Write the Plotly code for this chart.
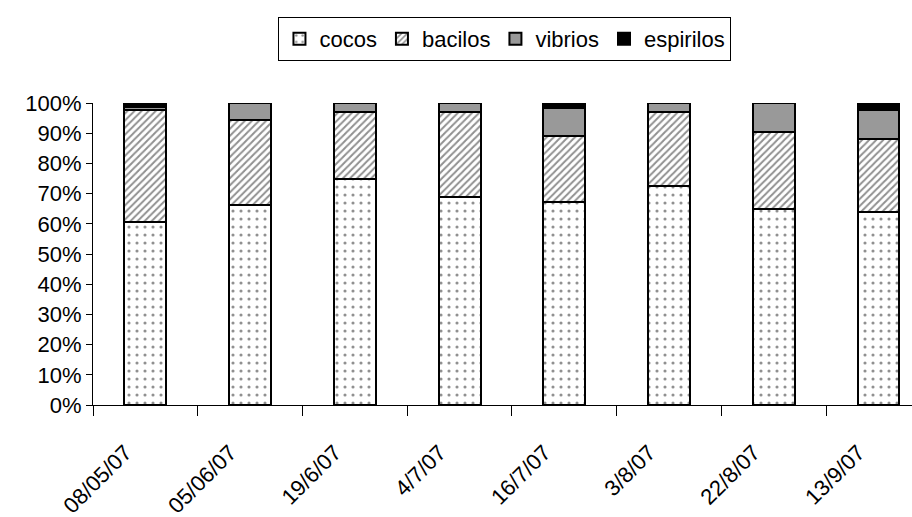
import plotly.graph_objects as go

categories = ["08/05/07", "05/06/07", "19/6/07", "4/7/07", "16/7/07", "3/8/07", "22/8/07", "13/9/07"]
cocos = [60.7, 66.2, 74.7, 68.8, 67.3, 72.6, 64.8, 64.0]
bacilos = [37.0, 28.2, 22.3, 28.2, 21.9, 24.4, 25.7, 24.0]
vibrios = [1.0, 5.6, 3.0, 3.0, 9.1, 3.0, 9.5, 9.7]
espirilos = [1.3, 0.0, 0.0, 0.0, 1.7, 0.0, 0.0, 2.3]

FONT = "Liberation Sans, Arial, sans-serif"
outline = dict(color="black", width=2)

fig = go.Figure()
fig.add_trace(go.Bar(name="cocos", x=categories, y=cocos, width=0.4,
                     marker=dict(color="white", line=outline,
                                 pattern=dict(shape=".", size=8, solidity=0.12,
                                              fgcolor="#222222", bgcolor="white"))))
fig.add_trace(go.Bar(name="bacilos", x=categories, y=bacilos, width=0.4,
                     marker=dict(color="white", line=outline,
                                 pattern=dict(shape="/", size=5, solidity=0.4,
                                              fgcolor="#222222", bgcolor="white"))))
fig.add_trace(go.Bar(name="vibrios", x=categories, y=vibrios, width=0.4,
                     marker=dict(color="#999999", line=outline)))
fig.add_trace(go.Bar(name="espirilos", x=categories, y=espirilos, width=0.4,
                     marker=dict(color="black", line=outline)))

fig.update_layout(
    barmode="stack",
    width=912, height=517,
    margin=dict(l=93, r=0, t=103, b=112),
    paper_bgcolor="white", plot_bgcolor="white",
    font=dict(family=FONT, size=22, color="black"),
    legend=dict(orientation="h", x=0.503, xanchor="center", y=1.285, yanchor="top",
                bordercolor="black", borderwidth=1, bgcolor="white",
                font=dict(size=22), traceorder="normal", itemwidth=30,
                tracegroupgap=0),
    bargap=0.6,
)
fig.update_xaxes(type="category", range=[-0.5, 7.32], showline=True, linecolor="black",
                 linewidth=1, ticks="outside", ticklen=10, tickcolor="black",
                 tickson="boundaries", tickangle=-45, showgrid=False,
                 ticklabelstandoff=25, ticklabelshift=-20,
                 tickfont=dict(size=22))
fig.update_yaxes(range=[0, 100], tickvals=list(range(0, 101, 10)),
                 ticktext=[f"{v}%" for v in range(0, 101, 10)],
                 showline=True, linecolor="black", linewidth=1, ticks="outside",
                 ticklen=6, tickcolor="black", showgrid=False, zeroline=False,
                 tickfont=dict(size=22))

fig.write_html("out.html")
